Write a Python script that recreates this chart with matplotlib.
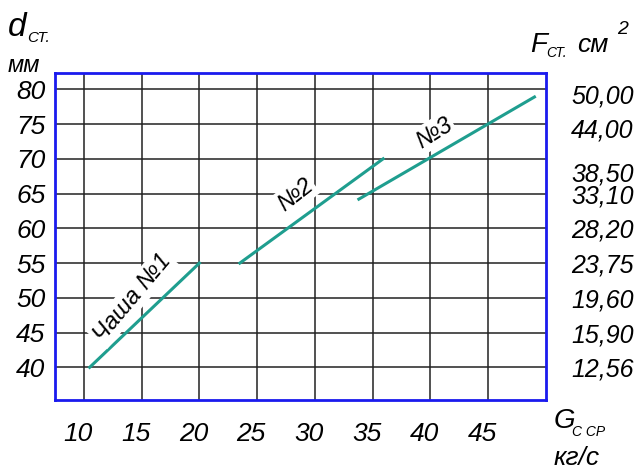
import numpy as np
import matplotlib.pyplot as plt
import matplotlib.transforms as mtrans

# data
# bowl lines: G (kg/s) vs d (mm)
g1 = [10.5, 20.0]
d1 = [40.0, 55.0]
g2 = [23.5, 35.9]
d2 = [55.0, 70.0]
g3 = [33.8, 49.0]
d3 = [64.2, 78.9]

x_ticks = [10, 15, 20, 25, 30, 35, 40, 45]
y_ticks = [40, 45, 50, 55, 60, 65, 70, 75, 80]
# right axis: section area, cm^2 (38,50 is drawn a bit low in the original)
f_pos = [40, 45, 50, 55, 60, 65, 68.1, 74.4, 79.4]
f_labels = ['12,56', '15,90', '19,60', '23,75', '28,20', '33,10', '38,50', '44,00', '50,00']

teal = '#1f9e8f'
blue = '#1a1aee'
fnt = dict(family='Liberation Sans', style='italic')

fig = plt.figure(figsize=(6.4, 4.7), dpi=100)
ax = fig.add_axes([55/640, 70/470, 491/640, 327/470])

ax.plot(g1, d1, color=teal, lw=2.2, zorder=3)
ax.plot(g2, d2, color=teal, lw=2.2, zorder=3)
ax.plot(g3, d3, color=teal, lw=2.2, zorder=3)

ax.set_xlim(7.5, 50.0)
ax.set_ylim(35.3, 82.35)
ax.set_xticks(x_ticks)
ax.set_yticks(y_ticks)
ax.grid(True, color='#222222', lw=1.1, zorder=1)
ax.tick_params(axis='x', length=0, labelsize=19, pad=16)
ax.tick_params(axis='y', length=0, labelsize=19, pad=7)
ax.set_xticklabels([str(v) for v in x_ticks], **fnt)
ax.set_yticklabels([str(v) for v in y_ticks], **fnt)
shift = mtrans.ScaledTranslation(-6/100, 0, fig.dpi_scale_trans)
for lab in ax.get_xticklabels():
    lab.set_transform(lab.get_transform() + shift)
for s in ax.spines.values():
    s.set_color(blue)
    s.set_linewidth(2)

ax2 = ax.twinx()
ax2.set_ylim(ax.get_ylim())
ax2.set_yticks(f_pos)
ax2.set_yticklabels(f_labels, **fnt)
ax2.tick_params(length=0, labelsize=18, pad=18)
for s in ax2.spines.values():
    s.set_visible(False)

# labels on the lines
box = dict(fc='white', ec='none', pad=1.5)
ax.text(14.2, 50.0, 'Чаша №1', rotation=50, ha='center', va='center',
        fontsize=17, bbox=box, zorder=4, **fnt)
ax.text(28.3, 64.8, '№2', rotation=38, ha='center', va='center',
        fontsize=17, bbox=box, zorder=4, **fnt)
ax.text(40.3, 73.7, '№3', rotation=32, ha='center', va='center',
        fontsize=17, bbox=box, zorder=4, **fnt)

# axis captions
fig.text(8/640, 1-36/470, 'd', fontsize=24, **fnt)
fig.text(27/640, 1-42/470, 'СТ.', fontsize=11, **fnt)
fig.text(8/640, 1-72/470, 'мм', fontsize=17, **fnt)

fig.text(530/640, 1-52/470, 'F', fontsize=20, **fnt)
fig.text(546/640, 1-57/470, 'СТ.', fontsize=10, **fnt)
fig.text(577/640, 1-52/470, 'см', fontsize=19, **fnt)
fig.text(617/640, 1-34/470, '2', fontsize=14, **fnt)

fig.text(554/640, 1-428/470, 'G', fontsize=20, **fnt)
fig.text(572/640, 1-436/470, 'С СР', fontsize=10, **fnt)
fig.text(554/640, 1-465/470, 'кг/с', fontsize=19, **fnt)

fig.savefig('out.png', dpi=100)
